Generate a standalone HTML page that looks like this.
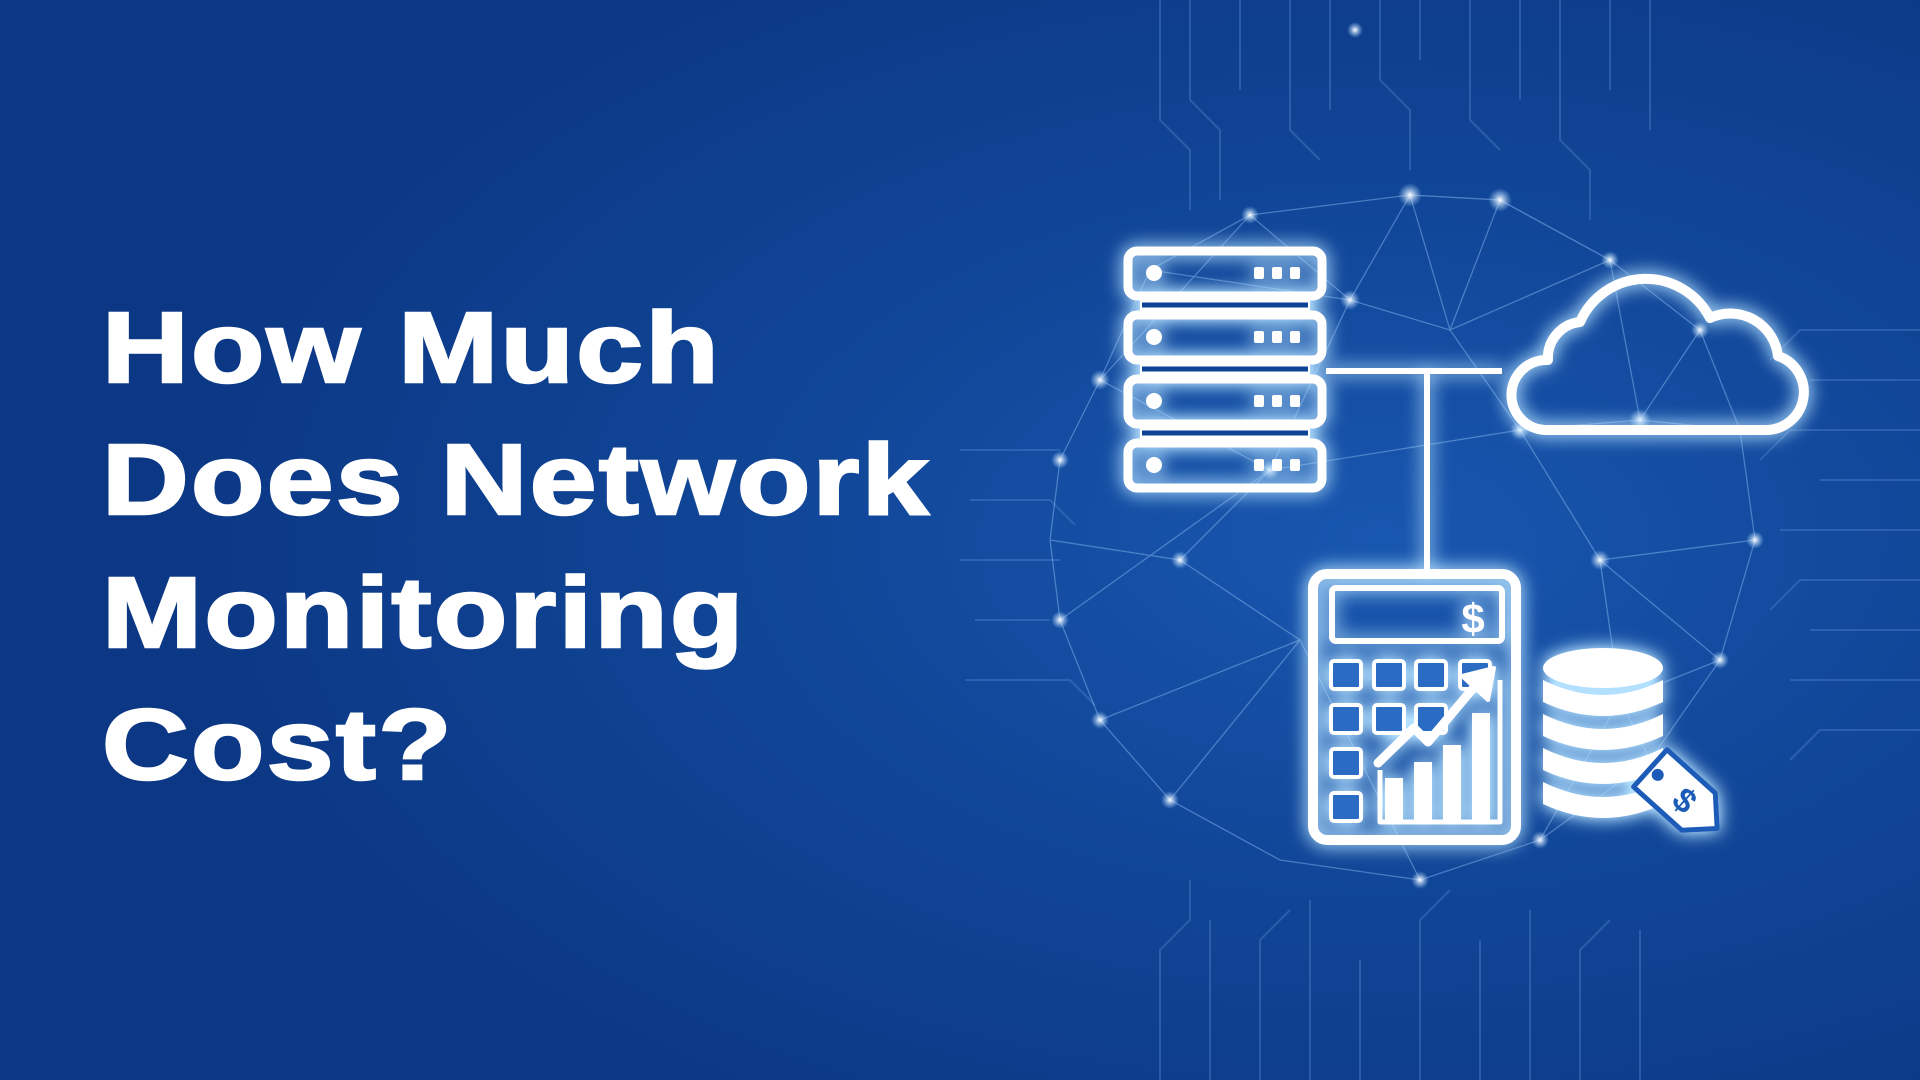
<!DOCTYPE html>
<html><head><meta charset="utf-8"><style>
html,body{margin:0;padding:0;width:1920px;height:1080px;overflow:hidden;background:#0c3d8a}
svg{display:block}
</style></head><body>
<svg width="1920" height="1080" viewBox="0 0 1920 1080" xmlns="http://www.w3.org/2000/svg">
<defs>
<radialGradient id="bg" cx="0.72" cy="0.5" r="0.65">
<stop offset="0" stop-color="#1857b0"/>
<stop offset="0.45" stop-color="#114799"/>
<stop offset="1" stop-color="#0b3784"/>
</radialGradient>
<filter id="glow" x="-30%" y="-30%" width="160%" height="160%">
<feGaussianBlur in="SourceGraphic" stdDeviation="9" result="b"/>
<feColorMatrix in="b" type="matrix" values="0 0 0 0 0.45 0 0 0 0 0.75 0 0 0 0 1 0 0 0 1.4 0" result="c"/>
<feMerge><feMergeNode in="c"/><feMergeNode in="SourceGraphic"/></feMerge>
</filter>
<radialGradient id="dot"><stop offset="0" stop-color="#fff" stop-opacity="1"/><stop offset="1" stop-color="#9fd0ff" stop-opacity="0"/></radialGradient>
</defs>
<rect width="1920" height="1080" fill="url(#bg)"/>
<g stroke="#5d8fd6" stroke-width="2" fill="none" opacity="0.35">
<path d="M1160 0V120L1190 150V210"/><path d="M1190 0V100L1220 130V200"/><path d="M1240 0V90"/><path d="M1290 0V130L1320 160"/>
<path d="M1330 0V110"/><path d="M1380 0V80L1410 110V170"/><path d="M1420 0V60"/><path d="M1470 0V120L1500 150"/>
<path d="M1520 0V100"/><path d="M1560 0V140L1590 170V220"/><path d="M1610 0V90"/><path d="M1650 0V130"/>
<path d="M1160 1080V950L1190 920V880"/><path d="M1210 1080V920"/><path d="M1260 1080V940L1290 910"/><path d="M1310 1080V900"/>
<path d="M1360 1080V960"/><path d="M1420 1080V920L1450 890"/><path d="M1480 1080V940"/><path d="M1530 1080V910"/><path d="M1580 1080V950L1610 920"/><path d="M1640 1080V930"/>
<path d="M1920 330H1800L1770 360"/><path d="M1920 380H1810"/><path d="M1920 430H1790L1760 460"/><path d="M1920 480H1820"/>
<path d="M1920 530H1780"/><path d="M1920 580H1800L1770 610"/><path d="M1920 630H1810"/><path d="M1920 680H1790"/><path d="M1920 730H1820L1790 760"/>
<path d="M960 450H1060"/><path d="M970 500H1050L1075 525"/><path d="M960 560H1060"/><path d="M975 620H1050"/><path d="M965 680H1070L1095 705"/>
</g>
<g stroke="#8fbef5" stroke-width="1.3" fill="none" opacity="0.45">
<polyline points="1060,460 1100,380 1150,270 1250,215 1410,195 1500,200 1610,260 1700,330 1740,430 1755,540 1720,660 1650,760 1540,840 1420,880 1280,860 1170,800 1100,720 1060,620 1050,540 1060,460"/>
<path d="M1100,380 L1250,215 L1350,300 L1410,195 L1450,330 L1610,260 L1640,420 L1700,330 M1350,300 L1450,330 L1520,430 L1640,420 L1740,430 M1150,270 L1350,300 L1270,470 L1100,380 M1270,470 L1520,430 L1600,560 L1755,540 M1060,620 L1270,470 L1180,560 L1050,540 M1180,560 L1300,640 L1100,720 M1600,560 L1720,660 L1620,700 L1650,760 M1520,430 L1450,330 M1300,640 L1420,880 M1540,840 L1620,700 L1600,560 M1170,800 L1300,640 M1410,195 L1500,200 L1450,330 M1610,260 L1500,200"/>
</g>
<g>
<circle cx="1100" cy="380" r="10" fill="url(#dot)"/><circle cx="1250" cy="215" r="9" fill="url(#dot)"/><circle cx="1350" cy="300" r="10" fill="url(#dot)"/>
<circle cx="1410" cy="195" r="12" fill="url(#dot)"/><circle cx="1500" cy="200" r="12" fill="url(#dot)"/><circle cx="1610" cy="260" r="9" fill="url(#dot)"/>
<circle cx="1640" cy="420" r="11" fill="url(#dot)"/><circle cx="1700" cy="330" r="9" fill="url(#dot)"/><circle cx="1520" cy="430" r="10" fill="url(#dot)"/>
<circle cx="1270" cy="470" r="10" fill="url(#dot)"/><circle cx="1180" cy="560" r="9" fill="url(#dot)"/><circle cx="1060" cy="620" r="9" fill="url(#dot)"/>
<circle cx="1100" cy="720" r="9" fill="url(#dot)"/><circle cx="1600" cy="560" r="10" fill="url(#dot)"/><circle cx="1755" cy="540" r="9" fill="url(#dot)"/>
<circle cx="1720" cy="660" r="9" fill="url(#dot)"/><circle cx="1540" cy="840" r="9" fill="url(#dot)"/><circle cx="1420" cy="880" r="9" fill="url(#dot)"/>
<circle cx="1170" cy="800" r="9" fill="url(#dot)"/><circle cx="1060" cy="460" r="9" fill="url(#dot)"/><circle cx="1355" cy="30" r="8" fill="url(#dot)"/>
</g>
<g transform="translate(102 0) scale(1.2 1)" font-family="Liberation Sans, sans-serif" font-weight="700" font-size="100" fill="#ffffff" stroke="#ffffff" stroke-width="2.5" letter-spacing="2">
<text x="0" y="382">How Much</text>
<text x="0" y="514">Does Network</text>
<text x="0" y="647">Monitoring</text>
<text x="0" y="779">Cost?</text>
</g>
<g filter="url(#glow)" stroke="#ffffff" fill="none" stroke-linejoin="round">
<g stroke-width="9">
<rect x="1128" y="251" width="194" height="45" rx="9"/>
<rect x="1128" y="315" width="194" height="45" rx="9"/>
<rect x="1128" y="379" width="194" height="45" rx="9"/>
<rect x="1128" y="443" width="194" height="45" rx="9"/>
</g>
<g fill="#fff" stroke="none">
<rect x="1140" y="296" width="170" height="19"/><rect x="1140" y="360" width="170" height="19"/><rect x="1140" y="424" width="170" height="19"/>
</g>
<g stroke="#0f4596" stroke-width="5"><line x1="1142" y1="305" x2="1308" y2="305"/><line x1="1142" y1="369" x2="1308" y2="369"/><line x1="1142" y1="433" x2="1308" y2="433"/></g>
<g fill="#fff" stroke="none">
<circle cx="1154" cy="273" r="8"/><circle cx="1154" cy="337" r="8"/><circle cx="1154" cy="401" r="8"/><circle cx="1154" cy="465" r="8"/>
<rect x="1254" y="267" width="10" height="12" rx="2"/><rect x="1272" y="267" width="10" height="12" rx="2"/><rect x="1290" y="267" width="10" height="12" rx="2"/>
<rect x="1254" y="331" width="10" height="12" rx="2"/><rect x="1272" y="331" width="10" height="12" rx="2"/><rect x="1290" y="331" width="10" height="12" rx="2"/>
<rect x="1254" y="395" width="10" height="12" rx="2"/><rect x="1272" y="395" width="10" height="12" rx="2"/><rect x="1290" y="395" width="10" height="12" rx="2"/>
<rect x="1254" y="459" width="10" height="12" rx="2"/><rect x="1272" y="459" width="10" height="12" rx="2"/><rect x="1290" y="459" width="10" height="12" rx="2"/>
</g>
<path d="M1326 371H1502M1427 371V569" stroke-width="6"/>
<path d="M1545 430H1765A38 38 0 0 0 1778 356A48 48 0 0 0 1710 318A72 72 0 0 0 1580 322A36 36 0 0 0 1548 360A35 35 0 0 0 1545 430Z" stroke-width="10"/>
<rect x="1313" y="574" width="203" height="266" rx="14" stroke-width="10"/>
<rect x="1332" y="588" width="170" height="53" rx="4" stroke-width="6"/>
<text x="1473" y="633" fill="#fff" stroke="none" font-family="Liberation Sans, sans-serif" font-weight="700" font-size="42" text-anchor="middle">$</text>
<g stroke-width="4" fill="#2a6cc4">
<rect x="1331" y="661" width="30" height="28" rx="3"/><rect x="1374" y="661" width="30" height="28" rx="3"/><rect x="1416" y="661" width="30" height="28" rx="3"/><rect x="1460" y="661" width="30" height="28" rx="3"/>
<rect x="1331" y="705" width="30" height="28" rx="3"/><rect x="1374" y="705" width="30" height="28" rx="3"/><rect x="1416" y="705" width="30" height="28" rx="3"/>
<rect x="1331" y="749" width="30" height="28" rx="3"/>
<rect x="1331" y="793" width="30" height="28" rx="3"/>
</g>
<path d="M1500 680V822H1380V770" stroke-width="5"/>
<g fill="#fff" stroke="none">
<rect x="1385" y="778" width="18" height="44"/><rect x="1414" y="762" width="18" height="60"/><rect x="1443" y="745" width="18" height="77"/><rect x="1472" y="713" width="18" height="109"/>
</g>
<path d="M1378 763L1414 728L1428 742L1480 680" stroke-width="9" stroke-linecap="round"/>
<path d="M1462 676L1494 668L1488 700Z" fill="#fff" stroke-width="4"/>
<g stroke="none" fill="#fff">
<ellipse cx="1603" cy="668" rx="60" ry="20"/>
<path d="M1543 680Q1603 710 1663 680V702Q1603 730 1543 702Z"/>
<path d="M1543 714Q1603 744 1663 714V736Q1603 764 1543 736Z"/>
<path d="M1543 748Q1603 778 1663 748V770Q1603 798 1543 770Z"/>
<path d="M1543 782Q1603 812 1663 782V804Q1603 832 1543 804Z"/>
</g>
<g transform="rotate(42 1680 795)">
<path d="M1640 770H1705L1730 795L1705 820H1640Z" fill="#fff" stroke="#1a5cb8" stroke-width="5"/>
<circle cx="1650" cy="795" r="6" fill="#1a5cb8" stroke="none"/>
</g>
<text x="1685" y="812" fill="#1a5cb8" stroke="none" font-family="Liberation Sans, sans-serif" font-weight="700" font-size="34" text-anchor="middle" transform="rotate(42 1685 800)">$</text>
</g>
</svg>
</body></html>
